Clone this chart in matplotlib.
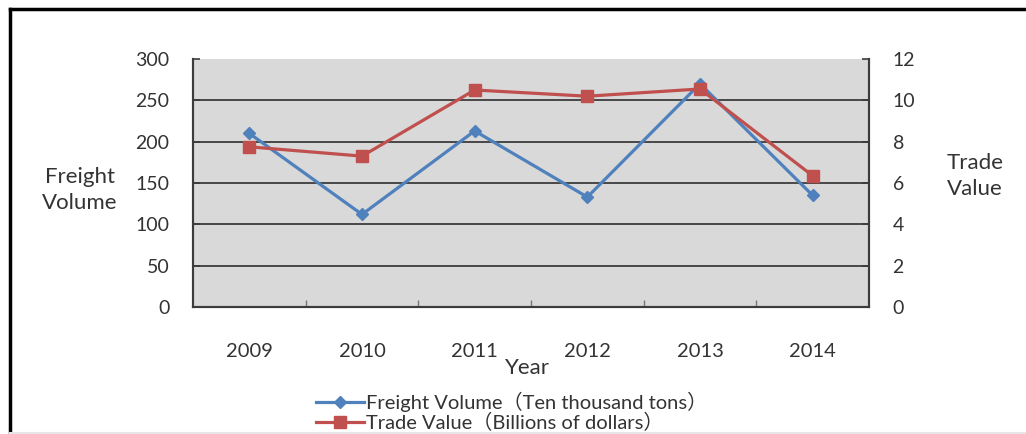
import matplotlib
matplotlib.use('Agg')
import matplotlib.pyplot as plt
from matplotlib.lines import Line2D

plt.rcParams['font.family'] = ['Lato', 'Noto Sans CJK SC', 'DejaVu Sans']

# data
years = ['2009', '2010', '2011', '2012', '2013', '2014']
freight = [210, 112, 213, 133, 270, 135]
trade = [7.75, 7.3, 10.5, 10.2, 10.55, 6.35]
left_ticks = [0, 50, 100, 150, 200, 250, 300]
right_ticks = [0, 2, 4, 6, 8, 10, 12]

blue = '#4f81bd'
red = '#c0504d'
txt = '#333333'

fig = plt.figure(figsize=(10.26, 4.34), dpi=100)
ax = fig.add_axes([193 / 1026, 1 - 307 / 434, (869 - 193) / 1026, (307 - 59) / 434])
ax2 = ax.twinx()

ax.set_facecolor('#d9d9d9')
x = list(range(len(years)))

# grid lines (not at the ends)
ax.hlines(left_ticks[1:-1], -0.5, len(years) - 0.5, colors='#3c3c3c', linewidth=1.3, zorder=1)

ax.plot(x, freight, color=blue, linewidth=2.3, marker='D', markersize=6,
        zorder=3, label='Freight Volume（Ten thousand tons）')
ax2.plot(x, trade, color=red, linewidth=2.3, marker='s', markersize=9,
         zorder=3, label='Trade Value（Billions of dollars）')

ax.set_xlim(-0.5, len(years) - 0.5)
ax.set_ylim(0, 300)
ax2.set_ylim(0, 12)

ax.set_yticks(left_ticks)
ax2.set_yticks(right_ticks)
ax.set_xticks(x)
ax.set_xticklabels(years)
ax.set_xticks([i + 0.5 for i in x[:-1]], minor=True)

ax.tick_params(axis='y', direction='in', length=5, width=1.2, colors='#3c3c3c',
               labelcolor=txt, labelsize=14, pad=17)
ax2.tick_params(axis='y', direction='in', length=5, width=1.2, colors='#3c3c3c',
                labelcolor=txt, labelsize=14, pad=17)
ax.tick_params(axis='x', which='major', length=0, labelcolor=txt, labelsize=14.5, pad=26)
ax.tick_params(axis='x', which='minor', direction='in', length=5, width=1, colors='#777777')

for a in (ax, ax2):
    a.spines['top'].set_visible(False)
    for s in ('left', 'right', 'bottom'):
        a.spines[s].set_color('#3c3c3c')
        a.spines[s].set_linewidth(1.5)
ax2.patch.set_visible(False)

fig.text(80 / 1026, 1 - 190 / 434, 'Freight\nVolume', ha='center', va='center',
         fontsize=16, color=txt, linespacing=1.35)
fig.text(975 / 1026, 1 - 176 / 434, 'Trade\nValue', ha='center', va='center',
         fontsize=16, color=txt, linespacing=1.35)
fig.text(527 / 1026, 1 - 368 / 434, 'Year', ha='center', va='center',
         fontsize=16, color=txt)

h1, l1 = ax.get_legend_handles_labels()
h2, l2 = ax2.get_legend_handles_labels()
fig.legend(h1 + h2, l1 + l2, loc='upper left', bbox_to_anchor=(306 / 1026, 1 - 382 / 434),
           frameon=False, fontsize=14.5, labelcolor=txt, handlelength=2.4,
           handletextpad=0.1, labelspacing=0.05, borderpad=0)

# outer frame
fig.add_artist(Line2D([10 / 1026, 10 / 1026], [0, 1 - 9 / 434], transform=fig.transFigure,
                      color='black', linewidth=2.5))
fig.add_artist(Line2D([10 / 1026, 1], [1 - 9 / 434, 1 - 9 / 434], transform=fig.transFigure,
                      color='black', linewidth=2.5))
fig.add_artist(Line2D([10 / 1026, 1], [1.5 / 434, 1.5 / 434], transform=fig.transFigure,
                      color='#e6e6e6', linewidth=1.5))

fig.savefig('out.png', dpi=100)
